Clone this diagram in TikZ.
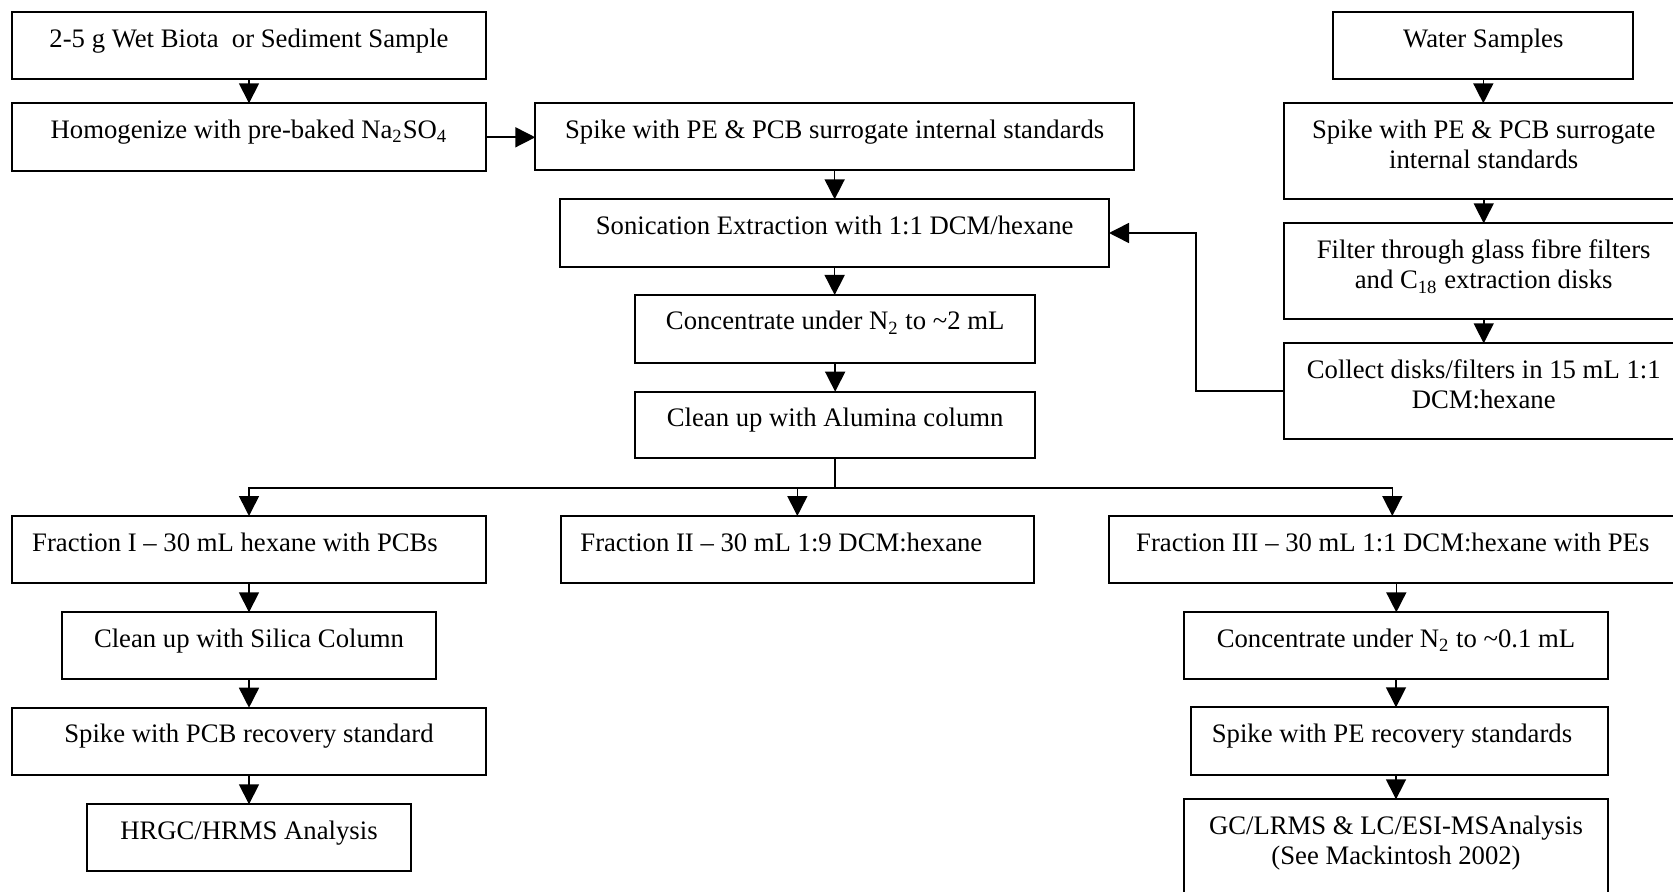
\documentclass[tikz,border=0pt]{standalone}
\usepackage{fontspec}
\setmainfont{Liberation Serif}
\usetikzlibrary{arrows.meta}
\newlength\px
\setlength\px{0.5pt}
\newcommand\boxtxt[4][0]{\parbox[c][#3\px][t]{#2\px}{\centering\rule{0pt}{35\px}\hspace*{#1\px}#4}}
\begin{document}
\begin{tikzpicture}[x=0.5pt,y=-0.5pt,
  bx/.style={draw, line width=0.9pt, inner sep=0pt, outer sep=0pt, anchor=north west,
             font=\fontsize{13.35}{15.3}\selectfont},
  arr/.style={line width=0.8pt, -{Triangle[length=10pt,width=10pt]}},
  ln/.style={line width=0.8pt}]
\useasboundingbox (0,0) rectangle (1673,892);
\clip (0,0) rectangle (1673,892);
% left column top
\node[bx] (smp) at (12,12.3) {\boxtxt{474}{67}{2-5 g Wet Biota\ \ or Sediment Sample}};
\node[bx] (hom) at (12,103.3) {\boxtxt{474}{68}{Homogenize with pre-baked Na\textsubscript{2}SO\textsubscript{4}}};
% centre column
\node[bx] (spk) at (535.3,103.3) {\boxtxt{598.7}{67}{Spike with PE \& PCB surrogate internal standards}};
\node[bx] (son) at (560.3,199.3) {\boxtxt{548.7}{67.4}{Sonication Extraction with 1:1 DCM/hexane}};
\node[bx] (conc) at (635.3,295) {\boxtxt{399.7}{67.7}{Concentrate under N\textsubscript{2} to \textasciitilde2 mL}};
\node[bx] (alu) at (635.3,391.7) {\boxtxt{399.7}{66.6}{Clean up with Alumina column}};
% right column top
\node[bx] (wat) at (1333.3,12.3) {\boxtxt{300}{67}{Water Samples}};
\node[bx] (rspk) at (1283.7,103.3) {\boxtxt{400}{96}{Spike with PE \& PCB surrogate\\internal standards}};
\node[bx] (filt) at (1283.7,223.3) {\boxtxt{400}{96}{Filter through glass fibre filters\\and C\textsubscript{18} extraction disks}};
\node[bx] (coll) at (1283.7,343.3) {\boxtxt{400}{96}{Collect disks/filters in 15 mL 1:1\\DCM:hexane}};
% fractions
\node[bx] (fr1) at (12,516) {\boxtxt[-28]{474}{67.3}{Fraction I – 30 mL hexane with PCBs}};
\node[bx] (fr2) at (560.7,516) {\boxtxt[-32]{473.3}{67.3}{Fraction II – 30 mL 1:9 DCM:hexane}};
\node[bx] (fr3) at (1109.3,516) {\boxtxt[-7]{574}{67.3}{Fraction III – 30 mL 1:1 DCM:hexane with PEs}};
% left column bottom
\node[bx] (sil) at (62,612.3) {\boxtxt{374}{67}{Clean up with Silica Column}};
\node[bx] (pcbr) at (12,707.7) {\boxtxt{474}{67.3}{Spike with PCB recovery standard}};
\node[bx] (hrgc) at (87,804.3) {\boxtxt{324}{66.7}{HRGC/HRMS Analysis}};
% right column bottom
\node[bx] (c01) at (1183.7,612.3) {\boxtxt{424.6}{67}{Concentrate under N\textsubscript{2} to \textasciitilde0.1 mL}};
\node[bx] (per) at (1190.7,707.3) {\boxtxt[-15]{417.6}{67.7}{Spike with PE recovery standards}};
\node[bx] (gc) at (1183.7,799.3) {\boxtxt{424.6}{110}{GC/LRMS \& LC/ESI-MSAnalysis\\(See Mackintosh 2002)}};
% connectors
\draw[arr] (smp.south) -- (hom.north);
\draw[arr] (hom.east) -- (hom.east -| spk.west);
\draw[arr] (spk.south) -- (spk.south |- son.north);
\draw[arr] (son.south) -- (son.south |- conc.north);
\draw[arr] (conc.south) -- (alu.north);
\draw[ln] (alu.south) -- ++(0,29.5) coordinate (j);
\draw[arr] (j) -| (fr1.north);
\draw[arr] (j) -| (fr2.north);
\draw[arr] (j) -| ([xshift=-2pt]fr3.north);
\draw[arr] (wat.south) -- (wat.south |- rspk.north);
\draw[arr] (rspk.south) -- (filt.north);
\draw[arr] (filt.south) -- (coll.north);
\draw[arr] (coll.west) -- ++(-87.5,0) |- (son.east);
\draw[arr] (fr1.south) -- (sil.north);
\draw[arr] (sil.south) -- (pcbr.north);
\draw[arr] (pcbr.south) -- (hrgc.north);
\draw[arr] (fr3.south) -- (fr3.south |- c01.north);
\draw[arr] (c01.south) -- (c01.south |- per.north);
\draw[arr] (per.south -| c01.south) -- (gc.north);
\end{tikzpicture}
\end{document}
